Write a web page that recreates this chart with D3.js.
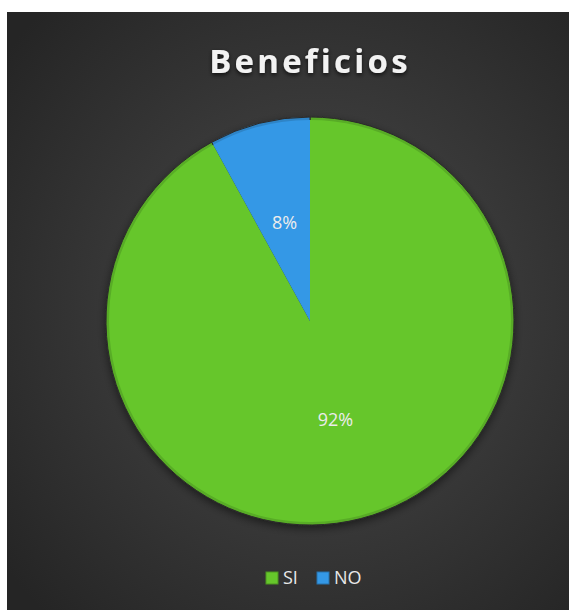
<!DOCTYPE html>
<html>
<head>
<meta charset="utf-8">
<script src="https://d3js.org/d3.v7.min.js"></script>
<style>
  body { margin: 0; background: #fff; }
  svg { display: block; }
</style>
</head>
<body>
<svg id="chart" width="569" height="610"></svg>
<script>
const categories = ["SI", "NO"];
const values = [92, 8];
const labels = ["92%", "8%"];
const colors = ["#66c62b", "#3498e6"];

const svg = d3.select("#chart");
const width = +svg.attr("width");
const height = +svg.attr("height");

const defs = svg.append("defs");

const bg = defs.append("radialGradient")
    .attr("id", "bg")
    .attr("cx", "55%").attr("cy", "50%").attr("r", "70%");
bg.append("stop").attr("offset", "0%").attr("stop-color", "#4b4b4b");
bg.append("stop").attr("offset", "100%").attr("stop-color", "#252525");

const shadow = defs.append("filter")
    .attr("id", "shadow")
    .attr("x", "-20%").attr("y", "-20%").attr("width", "140%").attr("height", "140%");
shadow.append("feDropShadow")
    .attr("dx", 0).attr("dy", 3).attr("stdDeviation", 4)
    .attr("flood-color", "#000").attr("flood-opacity", 0.5);

const textShadow = defs.append("filter").attr("id", "tshadow");
textShadow.append("feDropShadow")
    .attr("dx", 0).attr("dy", 2).attr("stdDeviation", 2)
    .attr("flood-color", "#000").attr("flood-opacity", 0.7);

// chart area
svg.append("rect")
    .attr("x", 7).attr("y", 12)
    .attr("width", width - 7).attr("height", height - 12)
    .attr("fill", "url(#bg)");

svg.append("text")
    .attr("x", 310)
    .attr("y", 73)
    .attr("text-anchor", "middle")
    .attr("font-family", "'Open Sans', sans-serif")
    .attr("font-weight", "bold")
    .attr("font-size", 33)
    .attr("letter-spacing", 3.2)
    .attr("fill", "#f2f2f2")
    .attr("filter", "url(#tshadow)")
    .text("Beneficios");

const cx = 310, cy = 321, radius = 204;

const pie = d3.pie().sort(null).value(d => d);
const arcs = pie(values);
const arc = d3.arc().innerRadius(0).outerRadius(radius);
const inner = d3.arc().innerRadius(0).outerRadius(radius - 3);

const g = svg.append("g").attr("transform", `translate(${cx},${cy})`);

g.append("g").attr("filter", "url(#shadow)")
    .selectAll("path")
    .data(arcs)
    .enter()
    .append("path")
    .attr("d", arc)
    .attr("fill", (d, i) => d3.color(colors[i]).darker(0.4))
    .attr("stroke", "#2a2a2a")
    .attr("stroke-width", 1);

g.selectAll("path.face")
    .data(arcs)
    .enter()
    .append("path")
    .attr("class", "face")
    .attr("d", inner)
    .attr("fill", (d, i) => colors[i]);

g.selectAll("text.lbl")
    .data(arcs)
    .enter()
    .append("text")
    .attr("class", "lbl")
    .attr("x", d => arc.centroid(d)[0])
    .attr("y", d => arc.centroid(d)[1])
    .attr("dy", "0.35em")
    .attr("text-anchor", "middle")
    .attr("font-family", "'Open Sans', sans-serif")
    .attr("font-size", 18)
    .attr("fill", "#ececec")
    .text((d, i) => labels[i]);

// legend
const legendX = [266, 317];
const legend = svg.append("g");
const item = legend.selectAll("g")
    .data(categories)
    .enter()
    .append("g")
    .attr("transform", (d, i) => `translate(${legendX[i]},572)`);

item.append("rect")
    .attr("width", 12).attr("height", 12)
    .attr("fill", (d, i) => colors[i])
    .attr("stroke", (d, i) => d3.color(colors[i]).darker(0.8))
    .attr("stroke-width", 1);

item.append("text")
    .attr("x", 17)
    .attr("y", 6)
    .attr("dy", "0.35em")
    .attr("font-family", "'Open Sans', sans-serif")
    .attr("font-size", 18)
    .attr("fill", "#e8e8e8")
    .text(d => d);
</script>
</body>
</html>
